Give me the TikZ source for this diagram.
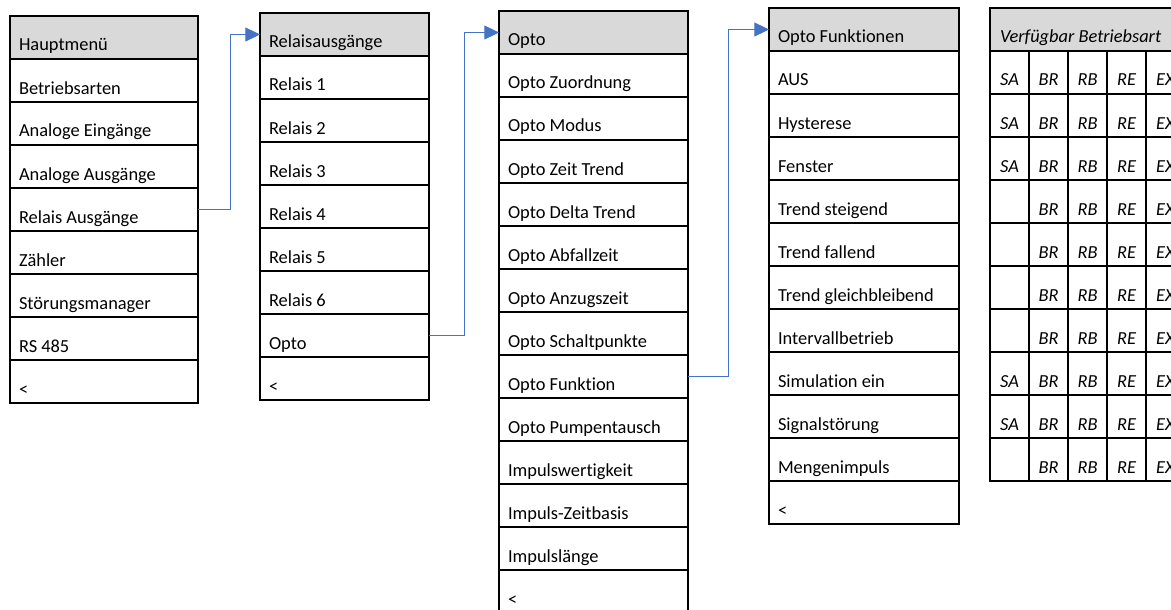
\documentclass[tikz,border=0pt]{standalone}
\usepackage{fontspec}
\setmainfont[Ligatures=NoCommon]{Carlito}
\usetikzlibrary{arrows.meta, positioning}
\definecolor{cLink}{RGB}{68,114,196}
\definecolor{cHead}{RGB}{217,217,217}
\newcommand{\menufont}{\fontsize{13.8pt}{16pt}\selectfont}
\tikzset{
	menucell/.style={rectangle, draw=black, line width=1.5pt, outer sep=0pt, inner xsep=6.75pt, inner ysep=0pt, text height=26.25pt, text depth=6pt, minimum height=32.25pt, text width=#1, align=flush left},
	menuhead/.style={menucell=#1, fill=cHead},
	% operating mode table
	modehead/.style={menucell=131.25pt, inner xsep=7.5pt, fill=cHead, font=\menufont\itshape},
	modecell/.style={rectangle, draw=black, line width=1.5pt, outer sep=0pt, inner sep=0pt, text height=26.25pt, text depth=6pt, minimum height=32.25pt, minimum width=29.25pt, font=\menufont\itshape},
	jump/.style={-{Triangle[length=11pt, width=10.5pt]}, cLink, line width=0.75pt},
}
\begin{document}
\begin{tikzpicture}[x=0.75pt, y=-0.75pt, font=\menufont]
	\useasboundingbox (0,0) rectangle (1171,610);
	\begin{scope}
		\clip (0,0) rectangle (1171,610);
		% main menu
		\node[menuhead=127.5pt, anchor=north west] (m1) at (10,16) {Hauptmenü};
		\foreach \t [count=\i from 2, remember=\i as \j (initially 1)] in {Betriebsarten, Analoge Eingänge, Analoge Ausgänge, Relais Ausgänge, Zähler, Störungsmanager, RS 485, <}
			\node[menucell=127.5pt, below=0pt of m\j] (m\i) {\t};
		% relay outputs
		\node[menuhead=113.25pt, anchor=north west] (r1) at (260,13) {Relaisausgänge};
		\foreach \t [count=\i from 2, remember=\i as \j (initially 1)] in {Relais 1, Relais 2, Relais 3, Relais 4, Relais 5, Relais 6, Opto, <}
			\node[menucell=113.25pt, below=0pt of r\j] (r\i) {\t};
		% opto menu
		\node[menuhead=128.25pt, anchor=north west] (o1) at (499,11) {Opto};
		\foreach \t [count=\i from 2, remember=\i as \j (initially 1)] in {Opto Zuordnung, Opto Modus, Opto Zeit Trend, Opto Delta Trend, Opto Abfallzeit, Opto Anzugszeit, Opto Schaltpunkte, Opto Funktion, Opto Pumpentausch, Impulswertigkeit, Impuls-Zeitbasis, Impulslänge, <}
			\node[menucell=128.25pt, below=0pt of o\j] (o\i) {\t};
		% opto functions
		\node[menuhead=129pt, anchor=north west] (f1) at (769,8) {Opto Funktionen};
		\foreach \t [count=\i from 2, remember=\i as \j (initially 1)] in {AUS, Hysterese, Fenster, Trend steigend, Trend fallend, Trend gleichbleibend, Intervallbetrieb, Simulation ein, Signalstörung, Mengenimpuls, <}
			\node[menucell=129pt, below=0pt of f\j] (f\i) {\t};
		% available modes
		\node[modehead, anchor=north west] (bh) at (990,8) {Verfügbar Betriebsart};
		\foreach \sa [count=\r] in {SA, SA, SA, {}, {}, {}, {}, SA, SA, {}}
			\foreach \md [count=\c] in {\sa, BR, RB, RE, EX}
				\node[modecell, anchor=north west] (b\r-\c) at ([xshift=(\c-1)*29.25pt, yshift=-(\r-1)*32.25pt]bh.south west) {\md};
		% links
		\draw[jump] (m5.east) -- ++(32,0) |- (r1.west);
		\draw[jump] (r8.east) -- ++(35,0) |- (o1.west);
		\draw[jump] (o9.east) -- ++(40,0) |- (f1.west);
	\end{scope}
\end{tikzpicture}
\end{document}
